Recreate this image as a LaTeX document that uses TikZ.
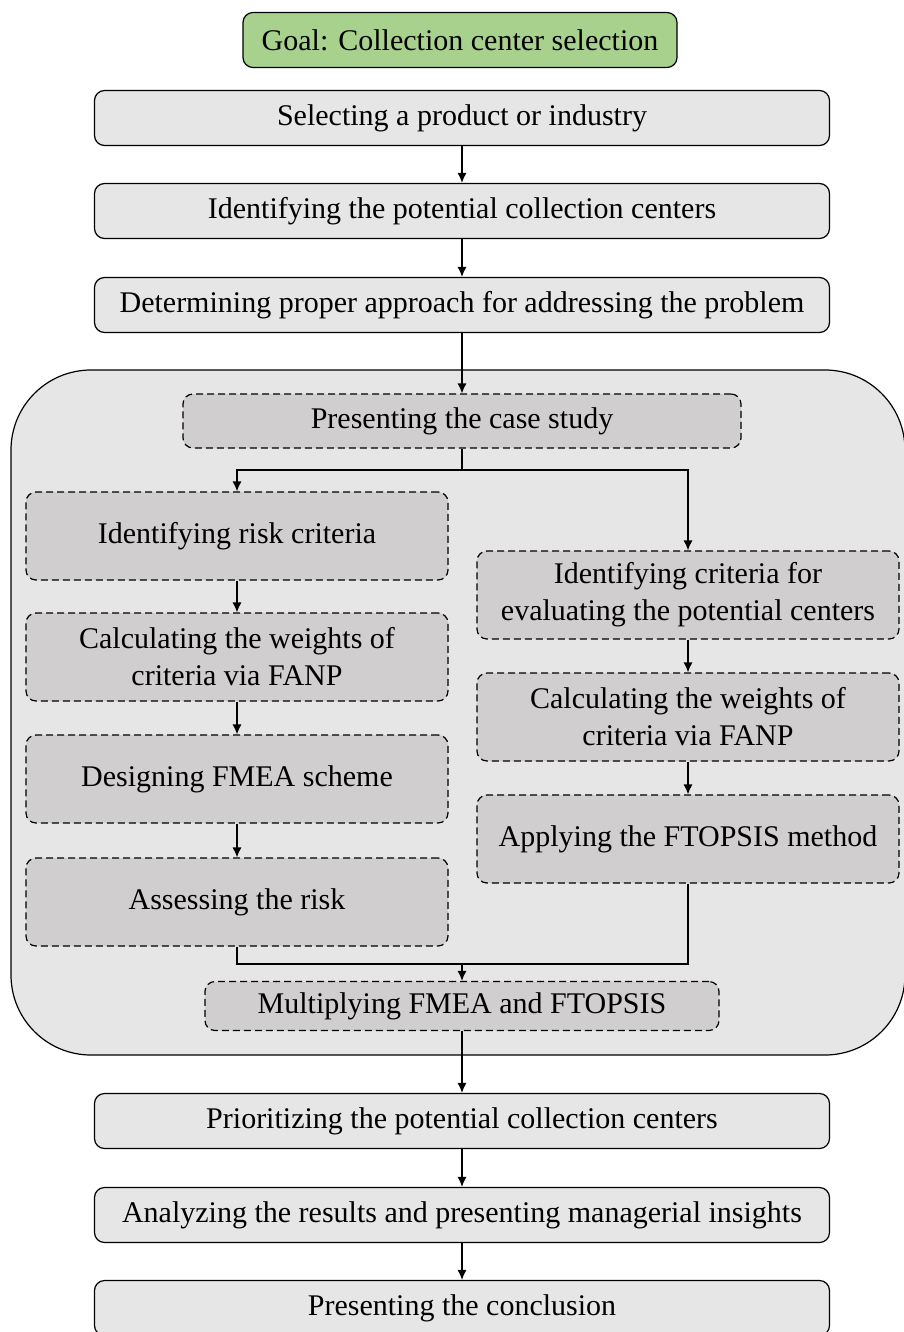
\documentclass[tikz,border=0pt]{standalone}
\usepackage{fontspec}
\setmainfont{Liberation Serif}
\usetikzlibrary{arrows.meta}

\definecolor{goalgreen}{RGB}{169,209,142}
\definecolor{boxgrey}{RGB}{231,230,230}
\definecolor{innergrey}{RGB}{208,206,206}

\tikzset{
  stepbox/.style={draw, line width=0.6pt, rounded corners=5pt, fill=boxgrey,
    minimum width=367.5pt, minimum height=27.5pt, inner sep=0pt,
    font=\fontsize{15}{18.5}\selectfont},
  goalbox/.style={stepbox, fill=goalgreen, minimum width=217pt},
  subbox/.style={stepbox, fill=innergrey, dash pattern=on 3.5pt off 2pt,
    minimum width=211pt, minimum height=44pt, align=center},
  arr/.style={line width=0.6pt, -{Latex[length=5pt,width=4.5pt]}},
  ln/.style={line width=0.6pt}
}

\begin{document}
\begin{tikzpicture}[x=0.5pt,y=-0.5pt]
    \useasboundingbox (0,0) rectangle (904,1332);

    % container for the case study
    \node[draw, line width=0.6pt, fill=boxgrey, rounded corners=40pt,
      minimum width=447pt, minimum height=342.5pt] (core) at (458,712.5) {};

    \node[goalbox] (goal) at (460,40) {Goal: Collection center selection};
    \node[stepbox] (select) at (462,118) {Selecting a product or industry};
    \node[stepbox] (ident) at (462,211) {Identifying the potential collection centers};
    \node[stepbox] (approach) at (462,305) {Determining proper approach for addressing the problem};

    \node[subbox, minimum width=279pt, minimum height=27pt] (case) at (462,421) {Presenting the case study};

    % left branch
    \node[subbox] (risk) at (237,536) {Identifying risk criteria};
    \node[subbox] (wleft) at (237,657) {Calculating the weights of\\criteria via FANP};
    \node[subbox] (fmea) at (237,779) {Designing FMEA scheme};
    \node[subbox] (assess) at (237,902) {Assessing the risk};

    % right branch
    \node[subbox] (critr) at (688,595) {Identifying criteria for\\evaluating the potential centers};
    \node[subbox] (wright) at (688,717) {Calculating the weights of\\criteria via FANP};
    \node[subbox] (topsis) at (688,839) {Applying the FTOPSIS method};

    \node[subbox, minimum width=257pt, minimum height=24.5pt] (multi) at (462,1006) {Multiplying FMEA and FTOPSIS};

    \node[stepbox] (prior) at (462,1121) {Prioritizing the potential collection centers};
    \node[stepbox] (analyze) at (462,1215) {Analyzing the results and presenting managerial insights};
    \node[stepbox] (concl) at (462,1308) {Presenting the conclusion};

    \coordinate (split) at (462,470);
    \coordinate (merge) at (462,964);

    \draw[arr] (select) -- (ident);
    \draw[arr] (ident) -- (approach);
    \draw[arr] (approach) -- (case);
    \draw[ln] (case) -- (split);
    \draw[arr] (split) -| (risk);
    \draw[arr] (split) -| (critr);
    \draw[arr] (risk) -- (wleft);
    \draw[arr] (wleft) -- (fmea);
    \draw[arr] (fmea) -- (assess);
    \draw[arr] (critr) -- (wright);
    \draw[arr] (wright) -- (topsis);
    \draw[ln] (assess) |- (merge);
    \draw[ln] (topsis) |- (merge);
    \draw[arr] (merge) -- (multi);
    \draw[arr] (multi) -- (prior);
    \draw[arr] (prior) -- (analyze);
    \draw[arr] (analyze) -- (concl);
\end{tikzpicture}
\end{document}
